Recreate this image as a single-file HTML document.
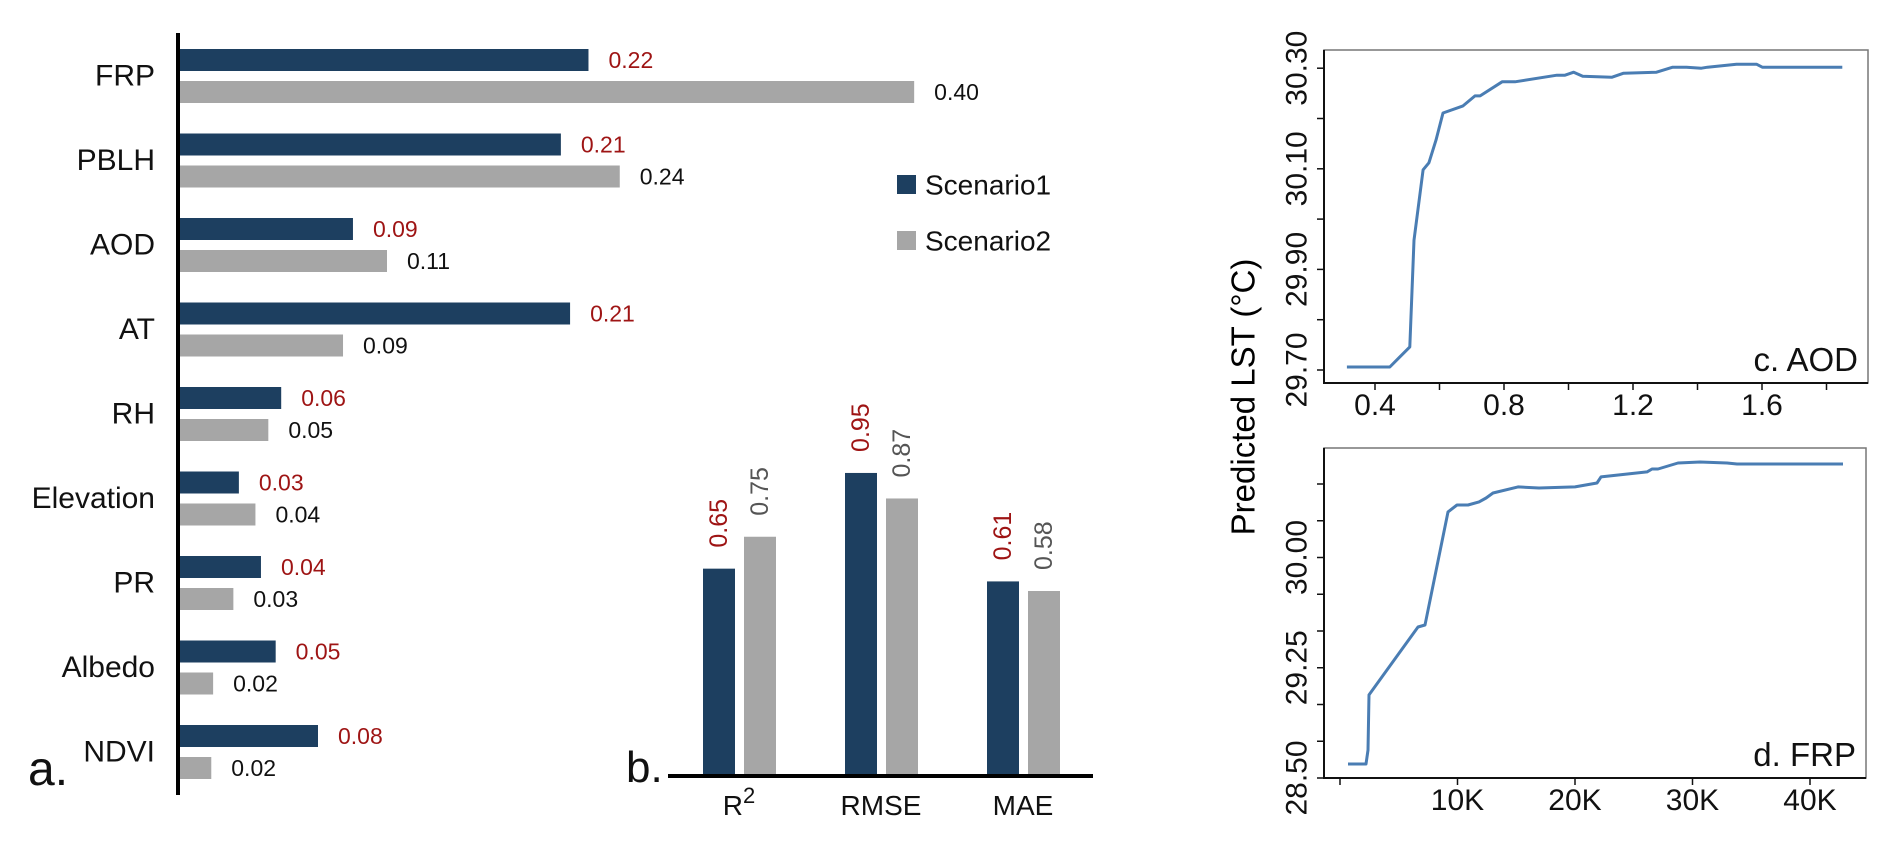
<!DOCTYPE html>
<html><head><meta charset="utf-8">
<style>
html,body{margin:0;padding:0;background:#fff;}
svg{display:block;}
text{font-family:"Liberation Sans",Arial,sans-serif;}
</style></head>
<body>
<svg id="fig" width="1892" height="851" viewBox="0 0 1892 851" xmlns="http://www.w3.org/2000/svg">
  <g id="panelA"></g>
  <g id="panelB"></g>
  <g id="panelC"></g>
  <g id="panelD"></g>
  <text x="1243" y="397" font-size="33" text-anchor="middle" dominant-baseline="central" transform="rotate(-90 1243 397)">Predicted LST (°C)</text>
</svg>
<script>
// ---- Panel a data ----
const featNames = ["FRP","PBLH","AOD","AT","RH","Elevation","PR","Albedo","NDVI"];
const s1Values = [0.222,0.207,0.094,0.212,0.055,0.032,0.044,0.052,0.075];
const s2Values = [0.399,0.239,0.1125,0.0886,0.048,0.041,0.029,0.018,0.017];
const s1Labels = ["0.22","0.21","0.09","0.21","0.06","0.03","0.04","0.05","0.08"];
const s2Labels = ["0.40","0.24","0.11","0.09","0.05","0.04","0.03","0.02","0.02"];
// ---- Panel b data ----
const metricNames = ["R","RMSE","MAE"];
const m1Values = [0.65,0.95,0.61];
const m2Values = [0.75,0.87,0.58];
// ---- Panel c data (AOD) ----
const aodX = [0.313,0.446,0.508,0.521,0.549,0.567,0.589,0.611,0.673,0.710,0.726,0.794,0.834,0.964,0.989,1.016,1.044,1.134,1.171,1.273,1.323,1.366,1.412,1.431,1.521,1.583,1.601,1.849];
const aodY = [29.706,29.706,29.746,29.958,30.098,30.112,30.157,30.211,30.225,30.245,30.245,30.273,30.273,30.286,30.286,30.292,30.284,30.282,30.290,30.292,30.302,30.302,30.300,30.302,30.308,30.308,30.302,30.302];
const aodXTicks = [0.4,0.6,0.8,1.0,1.2,1.4,1.6,1.8];
const aodXLabels = ["0.4","","0.8","","1.2","","1.6",""];
const aodYTicks = [29.7,29.8,29.9,30.0,30.1,30.2,30.3];
const aodYLabels = ["29.70","","29.90","","30.10","","30.30"];
// ---- Panel d data (FRP, thousands) ----
const frpX = [0.68,2.21,2.38,2.47,6.64,7.23,9.19,9.96,10.89,11.83,12.43,13.02,15.15,16.94,20.0,21.87,22.21,26.13,26.55,27.06,28.77,30.64,32.94,33.79,42.81];
const frpY = [28.595,28.595,28.690,29.065,29.527,29.541,30.310,30.357,30.357,30.378,30.405,30.439,30.480,30.473,30.480,30.507,30.548,30.582,30.602,30.602,30.643,30.650,30.643,30.636,30.636];
const frpXTicks = [0,10,20,30,40];
const frpXLabels = ["","10K","20K","30K","40K"];
const frpYTicks = [28.5,28.75,29.0,29.25,29.5,29.75,30.0,30.25,30.5];
const frpYLabels = ["28.50","","","29.25","","","30.00","",""];

const NS = "http://www.w3.org/2000/svg";
const DARK = "#1d3f60", GRAY = "#a6a6a6", RED = "#9e1414";
function mk(tag, attrs, parent){const e=document.createElementNS(NS,tag);for(const k in attrs)e.setAttribute(k,attrs[k]);parent.appendChild(e);return e;}

// ===== Panel a =====
const A = document.getElementById("panelA");
const aX0 = 180, aScale = 1840, aTop = 49, aStep = 84.5, barH = 22;
const xa = v => aX0 + v*aScale;
featNames.forEach((n,i)=>{
  const y1 = aTop + i*aStep, y2 = y1 + 32;
  let b = mk("rect",{x:aX0,y:y1,width:xa(s1Values[i])-aX0,height:barH,fill:DARK},A);
  
  
  let g = mk("rect",{x:aX0,y:y2,width:xa(s2Values[i])-aX0,height:barH,fill:GRAY},A);
  
  
  let t1 = mk("text",{x:xa(s1Values[i])+20,y:y1+barH/2,"font-size":23,fill:RED,"dominant-baseline":"central"},A);
  t1.textContent = s1Labels[i];
  
  
  let t2 = mk("text",{x:xa(s2Values[i])+20,y:y2+barH/2,"font-size":23,fill:"#111","dominant-baseline":"central"},A);
  t2.textContent = s2Labels[i];
  
  
  let c = mk("text",{x:155,y:y1+27,"font-size":30,fill:"#111","text-anchor":"end","dominant-baseline":"central"},A);
  c.textContent = n;
  
  
});
let axA = mk("line",{x1:178,y1:33,x2:178,y2:795,stroke:"#000","stroke-width":4},A);


let la = mk("text",{x:28,y:785,"font-size":48,fill:"#111"},A);
la.textContent = "a.";


// legend
[[DARK,"Scenario1",175],[GRAY,"Scenario2",231]].forEach(([col,lab,y])=>{
  let r = mk("rect",{x:897,y:y,width:19,height:19,fill:col},A);
  
  
  let t = mk("text",{x:925,y:y+10,"font-size":28,fill:"#111","dominant-baseline":"central"},A);
  t.textContent = lab;
  
  
});

// ===== Panel b =====
const B = document.getElementById("panelB");
const bBase = 776, bScale = 319, bX0 = 703, bStep = 142, bW = 32;
const yb = v => bBase - v*bScale;
metricNames.forEach((n,i)=>{
  const x1 = bX0 + i*bStep, x2 = x1 + 41;
  let r1 = mk("rect",{x:x1,y:yb(m1Values[i]),width:bW,height:bBase-yb(m1Values[i]),fill:DARK},B);
  
  
  let r2 = mk("rect",{x:x2,y:yb(m2Values[i]),width:bW,height:bBase-yb(m2Values[i]),fill:GRAY},B);
  
  
  [[x1,m1Values[i],RED],[x2,m2Values[i],"#555"]].forEach(([x,v,col])=>{
    const cx = x+bW/2, by = yb(v)-21;
    let t = mk("text",{x:cx,y:by,"font-size":25,fill:col,"dominant-baseline":"central",transform:`rotate(-90 ${cx} ${by})`},B);
    t.textContent = v.toFixed(2);
    
    
  });
  let c = mk("text",{x:x1+bW+4,y:815,"font-size":28,fill:"#111","text-anchor":"middle"},B);
  c.textContent = n;
  if(n==="R"){ let s = mk("tspan",{dy:-12,"font-size":22},c); s.textContent="2"; }
  
  
});
let axB = mk("line",{x1:668,y1:776,x2:1093,y2:776,stroke:"#000","stroke-width":4},B);


let lb = mk("text",{x:626,y:782,"font-size":44,fill:"#111"},B);
lb.textContent = "b.";



// ===== line panels =====
function linePanel(G, box, xs, ys, xT, xL, yT, yL, xf, yf, title, key){
  let fr = mk("rect",{x:box.l,y:box.t,width:box.r-box.l,height:box.b-box.t,fill:"none",stroke:"#777","stroke-width":1.5},G);
  
  
  let ax = mk("path",{d:`M${box.l} ${box.t}V${box.b}H${box.r}`,fill:"none",stroke:"#111","stroke-width":2},G);
  
  
  xT.forEach((v,i)=>{
    const x = xf(v);
    let tk = mk("line",{x1:x,y1:box.b,x2:x,y2:box.b+7,stroke:"#111","stroke-width":1.5},G);
    
    
    if(xL[i]){
      let t = mk("text",{x:x,y:box.b+32,"font-size":30,fill:"#111","text-anchor":"middle"},G);
      t.textContent = xL[i];
      
      
    }
  });
  yT.forEach((v,i)=>{
    const y = yf(v);
    let tk = mk("line",{x1:box.l-7,y1:y,x2:box.l,y2:y,stroke:"#111","stroke-width":1.5},G);
    
    
    if(yL[i]){
      let t = mk("text",{x:1297,y:y,"font-size":30,fill:"#111","text-anchor":"middle","dominant-baseline":"central",transform:`rotate(-90 1297 ${y})`},G);
      t.textContent = yL[i];
      
      
    }
  });
  const d = xs.map((v,i)=>(i?"L":"M")+xf(v).toFixed(1)+" "+yf(ys[i]).toFixed(1)).join("");
  let p = mk("path",{d:d,fill:"none",stroke:"#4a7db3","stroke-width":3,"stroke-linejoin":"round"},G);
  
  
  let tt = mk("text",{x:box.r-10,y:box.b-12,"font-size":33,fill:"#111","text-anchor":"end"},G);
  tt.textContent = title;
  
  
}
const xA = v => 1375 + (v-0.4)*322.5;
const yA = v => 370 - (v-29.7)*503;
const xF = k => 1340 + k*11.75;
const yF = v => 778 - (v-28.5)*147;
linePanel(document.getElementById("panelC"),{l:1324,r:1868,t:50,b:383},aodX,aodY,aodXTicks,aodXLabels,aodYTicks,aodYLabels,xA,yA,"c. AOD","aod");
linePanel(document.getElementById("panelD"),{l:1324,r:1866,t:448,b:778},frpX,frpY,frpXTicks,frpXLabels,frpYTicks,frpYLabels,xF,yF,"d. FRP","frp");
</script>
</body></html>
